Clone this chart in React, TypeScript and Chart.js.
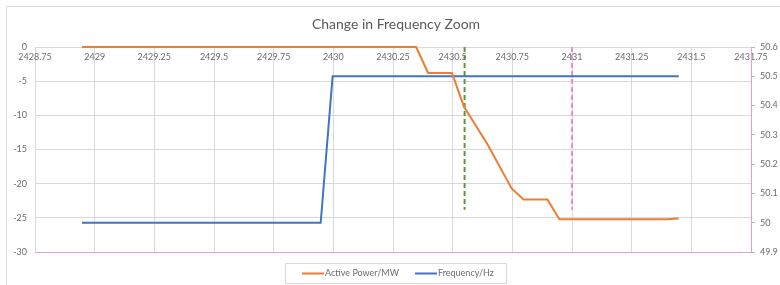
import React, { useEffect, useRef } from 'react';
import { Chart, registerables } from 'chart.js';

Chart.register(...registerables);

const TITLE = 'Change in Frequency Zoom';
const X_TICKS = [2428.75, 2429, 2429.25, 2429.5, 2429.75, 2430, 2430.25, 2430.5, 2430.75, 2431, 2431.25, 2431.5, 2431.75];
const POWER_TICKS = [-30, -25, -20, -15, -10, -5, 0];
const FREQ_TICKS = [49.9, 50, 50.1, 50.2, 50.3, 50.4, 50.5, 50.6];

const POWER_LABEL = 'Active Power/MW';
const POWER_TIME = [2428.947, 2430.347, 2430.397, 2430.497, 2430.547, 2430.647, 2430.747, 2430.797, 2430.897, 2430.947, 2431.397, 2431.447];
const POWER_MW = [0, 0, -3.8, -3.8, -8.7, -14.3, -20.7, -22.3, -22.3, -25.2, -25.2, -25.1];

const FREQ_LABEL = 'Frequency/Hz';
const FREQ_TIME = [2428.947, 2429.947, 2429.997, 2431.447];
const FREQ_HZ = [50.0, 50.0, 50.5, 50.5];

const MARKER_GREEN_TIME = [2430.55, 2430.55];
const MARKER_PINK_TIME = [2431.0, 2431.0];
const MARKER_MW = [0, -23.8];

const ORANGE = '#ed7d31';
const BLUE = '#4472c4';
const GREEN = '#5f9a3a';
const PINK = '#e98be9';
const AXIS_PINK = '#e0a0e0';
const GRID = '#d9d9d9';
const TEXT = '#6b6b6b';
const FONT = 'Lato, "Open Sans", sans-serif';

const zip = (xs: number[], ys: number[]) => xs.map((x, i) => ({ x, y: ys[i] }));

const decorPlugin = {
  id: 'decor',
  beforeDraw(chart: any) {
    const ctx = chart.ctx;
    ctx.save();
    ctx.fillStyle = '#ffffff';
    ctx.fillRect(0, 0, chart.width, chart.height);
    ctx.strokeStyle = GRID;
    ctx.lineWidth = 1;
    ctx.beginPath();
    ctx.moveTo(6.5, chart.height);
    ctx.lineTo(6.5, 6.5);
    ctx.lineTo(chart.width, 6.5);
    ctx.stroke();
    ctx.restore();
  },
  afterDraw(chart: any) {
    const ctx = chart.ctx;
    ctx.save();
    ctx.fillStyle = '#595959';
    ctx.font = `14px ${FONT}`;
    ctx.textAlign = 'center';
    ctx.textBaseline = 'middle';
    ctx.fillText(TITLE, 396, 24);
    ctx.strokeStyle = GRID;
    ctx.lineWidth = 1;
    ctx.strokeRect(285.5, 263.5, 221, 20);
    const items = [
      { label: chart.data.datasets[0].label, color: chart.data.datasets[0].borderColor, x: 302 },
      { label: chart.data.datasets[1].label, color: chart.data.datasets[1].borderColor, x: 415 },
    ];
    ctx.font = `9px ${FONT}`;
    ctx.textAlign = 'left';
    ctx.textBaseline = 'middle';
    for (const it of items) {
      ctx.strokeStyle = it.color;
      ctx.lineWidth = 2;
      ctx.beginPath();
      ctx.moveTo(it.x, 273.5);
      ctx.lineTo(it.x + 22, 273.5);
      ctx.stroke();
      ctx.fillStyle = TEXT;
      ctx.fillText(it.label, it.x + 23, 273.5);
    }
    ctx.restore();
  },
};

export default function App() {
  const ref = useRef<HTMLCanvasElement | null>(null);
  useEffect(() => {
    document.body.style.margin = '0';
    const canvas = ref.current;
    if (!canvas) return;
    const lineDs = (label: string, data: any[], color: string, yAxisID: string, dash?: number[]) => ({
      label,
      data,
      borderColor: color,
      backgroundColor: color,
      borderWidth: 2,
      borderDash: dash || [],
      pointRadius: 0,
      pointHoverRadius: 0,
      tension: 0,
      fill: false,
      clip: false,
      xAxisID: 'x',
      yAxisID,
    });
    const chart = new Chart(canvas, {
      type: 'line',
      data: {
        datasets: [
          lineDs(POWER_LABEL, zip(POWER_TIME, POWER_MW), ORANGE, 'y'),
          lineDs(FREQ_LABEL, zip(FREQ_TIME, FREQ_HZ), BLUE, 'y1'),
          lineDs('marker1', zip(MARKER_GREEN_TIME, MARKER_MW), GREEN, 'y', [5, 3]),
          lineDs('marker2', zip(MARKER_PINK_TIME, MARKER_MW), PINK, 'y', [5, 3]),
        ] as any,
      },
      options: {
        animation: false,
        responsive: false,
        maintainAspectRatio: false,
        layout: { padding: { top: 47, bottom: 33, left: 0, right: 0 } },
        plugins: { legend: { display: false }, title: { display: false }, tooltip: { enabled: false } },
        events: [],
        scales: {
          x: {
            type: 'linear',
            position: { y: 0 } as any,
            min: X_TICKS[0],
            max: X_TICKS[X_TICKS.length - 1],
            afterBuildTicks: (s: any) => { s.ticks = X_TICKS.map((v) => ({ value: v })); },
            afterFit: (s: any) => { s.height = 0; },
            ticks: {
              color: TEXT,
              font: { family: FONT, size: 9 },
              padding: 5,
              maxRotation: 0,
              autoSkip: false,
              callback: (v: any) => String(v),
            },
            grid: { color: GRID, lineWidth: 1, drawTicks: false },
            border: { display: false },
          },
          x2: {
            type: 'linear',
            position: 'bottom',
            min: X_TICKS[0],
            max: X_TICKS[X_TICKS.length - 1],
            afterFit: (s: any) => { s.height = 0; },
            ticks: { display: false },
            grid: { display: false, drawTicks: false },
            border: { display: true, color: AXIS_PINK, width: 1, z: 1 },
          },
          y: {
            type: 'linear',
            position: 'left',
            min: POWER_TICKS[0],
            max: POWER_TICKS[POWER_TICKS.length - 1],
            afterBuildTicks: (s: any) => { s.ticks = POWER_TICKS.map((v) => ({ value: v })); },
            afterFit: (s: any) => { s.width = 35; },
            ticks: { color: TEXT, font: { family: FONT, size: 9 }, padding: 8, callback: (v: any) => String(v) },
            grid: { color: GRID, lineWidth: 1, drawTicks: false },
            border: { display: false },
          },
          y1: {
            type: 'linear',
            position: 'right',
            min: FREQ_TICKS[0],
            max: FREQ_TICKS[FREQ_TICKS.length - 1],
            afterBuildTicks: (s: any) => { s.ticks = FREQ_TICKS.map((v) => ({ value: v })); },
            afterFit: (s: any) => { s.width = 29; },
            ticks: { color: TEXT, font: { family: FONT, size: 9 }, padding: 5, callback: (v: any) => String(Number(Number(v).toFixed(1))) },
            grid: { drawOnChartArea: false, drawTicks: true, tickLength: 4, color: AXIS_PINK },
            border: { display: true, color: AXIS_PINK, width: 1, z: 1 },
          },
        },
      },
      plugins: [decorPlugin],
    });
    return () => chart.destroy();
  }, []);
  return (
    <div style={{ width: 780, height: 285 }}>
      <canvas ref={ref} width={780} height={285} style={{ display: 'block', width: 780, height: 285 }} />
    </div>
  );
}
